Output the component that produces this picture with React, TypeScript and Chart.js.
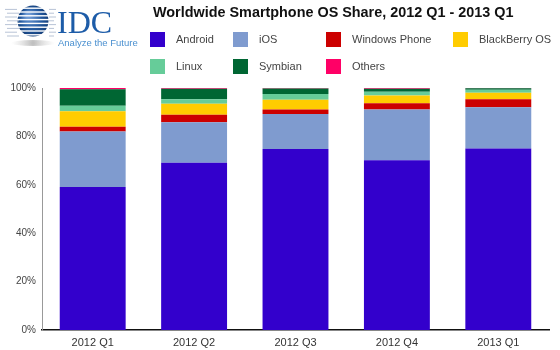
import React, { useEffect, useRef } from "react";
import { Chart, registerables } from "chart.js";
Chart.register(...registerables);

const titleText = "Worldwide Smartphone OS Share, 2012 Q1 - 2013 Q1";
const categories = ["2012 Q1", "2012 Q2", "2012 Q3", "2012 Q4", "2013 Q1"];
const seriesNames = ["Android", "iOS", "Windows Phone", "BlackBerry OS", "Linux", "Symbian", "Others"];
const android = [59.1, 69.1, 74.8, 70.1, 75.0];
const ios = [22.9, 16.7, 14.5, 21.0, 17.0];
const windowsPhone = [2.0, 3.1, 1.8, 2.6, 3.3];
const blackberry = [6.4, 4.6, 4.0, 3.2, 2.7];
const linux = [2.3, 1.9, 2.4, 1.5, 1.3];
const symbian = [6.8, 4.3, 2.3, 1.3, 0.6];
const others = [0.5, 0.3, 0.2, 0.3, 0.1];
const seriesColors = ["#3300cc", "#7f9bcf", "#cc0000", "#ffcc00", "#66cc99", "#006633", "#ff0066"];

const FONT = "'Liberation Sans', Arial, sans-serif";

const headerPlugin = {
  id: "header",
  afterDraw(chart: any) {
    const ctx = chart.ctx as CanvasRenderingContext2D;
    ctx.save();
    // Logo shadow
    const sg = ctx.createRadialGradient(33, 43, 1, 33, 43, 22);
    sg.addColorStop(0, "rgba(150,150,150,0.6)");
    sg.addColorStop(1, "rgba(200,200,200,0)");
    ctx.fillStyle = sg;
    ctx.beginPath();
    ctx.ellipse(33, 43, 22, 3, 0, 0, Math.PI * 2);
    ctx.fill();
    // globe
    const g = ctx.createRadialGradient(28, 15, 2, 33, 21, 16);
    g.addColorStop(0, "#6f9bd6");
    g.addColorStop(0.6, "#245aa0");
    g.addColorStop(1, "#143e78");
    ctx.fillStyle = g;
    ctx.beginPath();
    ctx.arc(33, 21, 15.5, 0, Math.PI * 2);
    ctx.fill();
    for (let i = 0; i < 8; i++) {
      const y = 7.5 + i * 3.8;
      ctx.fillStyle = "#ffffff";
      ctx.fillRect(14, y, 40, 1.4);
      ctx.fillStyle = "#b8c4d6";
      ctx.fillRect(5 + (i % 2) * 2, y + 1.4, 12, 1);
      ctx.fillRect(49, y + 1.4, 7 - (i % 2) * 2, 1);
    }
    ctx.fillStyle = "#1d5ca8";
    ctx.font = "32px 'Liberation Serif', 'Times New Roman', serif";
    ctx.textBaseline = "alphabetic";
    ctx.textAlign = "left";
    ctx.fillText("IDC", 57, 33);
    ctx.fillStyle = "#4a90d0";
    ctx.font = "9.5px " + FONT;
    ctx.fillText("Analyze the Future", 58, 46);

    // Title
    ctx.fillStyle = "#111111";
    ctx.font = "bold 14.4px " + FONT;
    ctx.fillText(titleText, 153, 17);

    // Legend
    const colX = [150, 233, 326, 453];
    const rowY = [32, 59];
    ctx.font = "11px " + FONT;
    ctx.textBaseline = "middle";
    chart.data.datasets.forEach((ds: any, i: number) => {
      const r = Math.floor(i / 4);
      const c = i % 4;
      const x = colX[c];
      const y = rowY[r];
      ctx.fillStyle = ds.backgroundColor;
      ctx.fillRect(x, y, 15, 15);
      ctx.fillStyle = "#444444";
      ctx.fillText(ds.label, x + 26, y + 8);
    });
    ctx.restore();
  },
};

export default function App() {
  const ref = useRef<HTMLCanvasElement | null>(null);
  useEffect(() => {
    document.body.style.margin = "0";
    const values = [android, ios, windowsPhone, blackberry, linux, symbian, others];
    const chart = new Chart(ref.current as HTMLCanvasElement, {
      type: "bar",
      data: {
        labels: categories,
        datasets: seriesNames.map((name, i) => ({
          label: name,
          data: values[i],
          backgroundColor: seriesColors[i],
          borderWidth: 0,
          barPercentage: 0.65,
          categoryPercentage: 1,
        })),
      },
      options: {
        responsive: false,
        animation: false,
        devicePixelRatio: 1,
        layout: { padding: { top: 88, right: 11, left: 0, bottom: 0 } },
        plugins: {
          legend: { display: false },
          title: { display: false },
          tooltip: { enabled: false },
        },
        scales: {
          x: {
            stacked: true,
            grid: { display: false, drawTicks: false },
            border: { display: true, color: "#111111", width: 1.5 },
            ticks: { color: "#333333", font: { family: FONT, size: 11 }, padding: 6 },
            afterFit: (s: any) => { s.height = 20; },
          },
          y: {
            stacked: true,
            min: 0,
            max: 100,
            grid: { display: false, drawTicks: false },
            border: { display: true, color: "#999999", width: 1 },
            ticks: {
              stepSize: 20,
              color: "#444444",
              font: { family: FONT, size: 10 },
              padding: 6,
              callback: (v: any) => v + "%",
            },
            afterFit: (s: any) => { s.width = 42; },
          },
        },
      },
      plugins: [headerPlugin],
    });
    return () => chart.destroy();
  }, []);
  return (
    <div style={{ width: 560, height: 350, background: "#ffffff" }}>
      <canvas ref={ref} width={560} height={350} style={{ display: "block" }} />
    </div>
  );
}
